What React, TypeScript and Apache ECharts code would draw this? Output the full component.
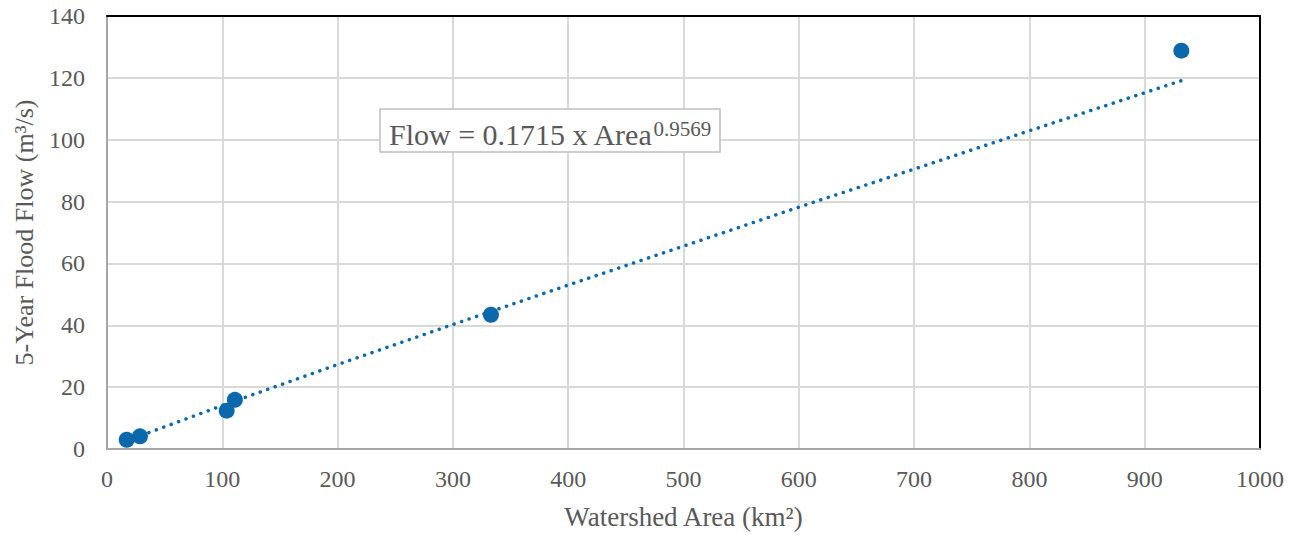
import React, { useEffect, useRef } from "react";
import * as echarts from "echarts";

const areaKm2 = [17.1, 28.6, 103.8, 110.9, 333, 931.8];
const flowCms = [3.0, 4.1, 12.4, 15.9, 43.4, 128.8];

const trendArea = [17.1, 28.6, 100, 200, 300, 400, 500, 600, 700, 800, 931.8];
const trendFlow = [2.6, 4.2, 14.06, 27.3, 40.25, 53.0, 65.6, 78.2, 90.5, 102.9, 119.1];

const xTicks = [0, 100, 200, 300, 400, 500, 600, 700, 800, 900, 1000];
const yTicks = [0, 20, 40, 60, 80, 100, 120, 140];

const FONT = "'Liberation Serif', 'DejaVu Serif', serif";
const BLUE = "#0B68AB";
const GRAY = "#595959";

export default function App() {
  const ref = useRef<HTMLDivElement>(null);
  useEffect(() => {
    if (!ref.current) return;
    const chart = echarts.init(ref.current, null, { renderer: "svg" });
    const xRange = { type: "value", min: xTicks[0], max: xTicks[xTicks.length - 1], interval: 100 };
    const yRange = { type: "value", min: yTicks[0], max: yTicks[yTicks.length - 1], interval: 20 };
    chart.setOption({
      animation: false,
      backgroundColor: "#ffffff",
      grid: { left: 107, right: 39, top: 16, bottom: 84 },
      xAxis: [
        {
          ...xRange,
          name: "Watershed Area (km²)",
          nameLocation: "middle",
          nameGap: 54,
          nameTextStyle: { fontFamily: FONT, fontSize: 27, color: GRAY },
          axisLine: { show: true, lineStyle: { color: "#A6A6A6", width: 2 } },
          axisTick: { show: false },
          axisLabel: {
            fontFamily: FONT,
            fontSize: 24,
            color: GRAY,
            margin: 18,
            formatter: (v: number) => String(v),
          },
          splitLine: { show: true, lineStyle: { color: "#D9D9D9", width: 2 } },
        },
        {
          ...xRange,
          position: "top",
          axisLine: { show: true, onZero: false, lineStyle: { color: "#000000", width: 2 } },
          axisTick: { show: false },
          axisLabel: { show: false },
          splitLine: { show: false },
        },
      ],
      yAxis: [
        {
          ...yRange,
          name: "5-Year Flood Flow (m³/s)",
          nameLocation: "middle",
          nameGap: 70,
          nameRotate: 90,
          nameTextStyle: { fontFamily: FONT, fontSize: 26, color: GRAY },
          axisLine: { show: true, lineStyle: { color: "#A6A6A6", width: 2 } },
          axisTick: { show: false },
          axisLabel: { fontFamily: FONT, fontSize: 24, color: GRAY, margin: 22 },
          splitLine: { show: true, lineStyle: { color: "#D9D9D9", width: 2 } },
        },
        {
          ...yRange,
          position: "right",
          axisLine: { show: true, onZero: false, lineStyle: { color: "#000000", width: 2 } },
          axisTick: { show: false },
          axisLabel: { show: false },
          splitLine: { show: false },
        },
      ],
      series: [
        {
          type: "line",
          xAxisIndex: 0,
          yAxisIndex: 0,
          data: trendArea.map((x, i) => [x, trendFlow[i]]),
          showSymbol: false,
          symbol: "none",
          smooth: false,
          lineStyle: { color: BLUE, width: 3.5, type: [0.1, 7.8], cap: "round" },
          z: 2,
        },
        {
          type: "scatter",
          xAxisIndex: 0,
          yAxisIndex: 0,
          data: areaKm2.map((x, i) => [x, flowCms[i]]),
          symbol: "circle",
          symbolSize: 16,
          itemStyle: { color: BLUE, opacity: 1 },
          z: 3,
        },
      ],
      graphic: [
        {
          type: "rect",
          shape: { x: 380, y: 109, width: 340, height: 43 },
          style: { fill: "#ffffff", stroke: "#BFBFBF", lineWidth: 1.5 },
          z: 10,
        },
        {
          type: "text",
          x: 389,
          y: 131,
          z: 11,
          style: {
            text: "{a|Flow = 0.1715 x Area}{s|0.9569}",
            align: "left",
            verticalAlign: "middle",
            rich: {
              a: { fontFamily: FONT, fontSize: 30, fill: GRAY, lineHeight: 36, verticalAlign: "bottom" },
              s: { fontFamily: FONT, fontSize: 21, fill: GRAY, lineHeight: 21, verticalAlign: "top", padding: [5, 0, 0, 0] },
            },
          },
        },
      ],
    });
    return () => chart.dispose();
  }, []);
  return <div ref={ref} style={{ width: 1299, height: 535, position: "absolute", left: 0, top: 0 }} />;
}
